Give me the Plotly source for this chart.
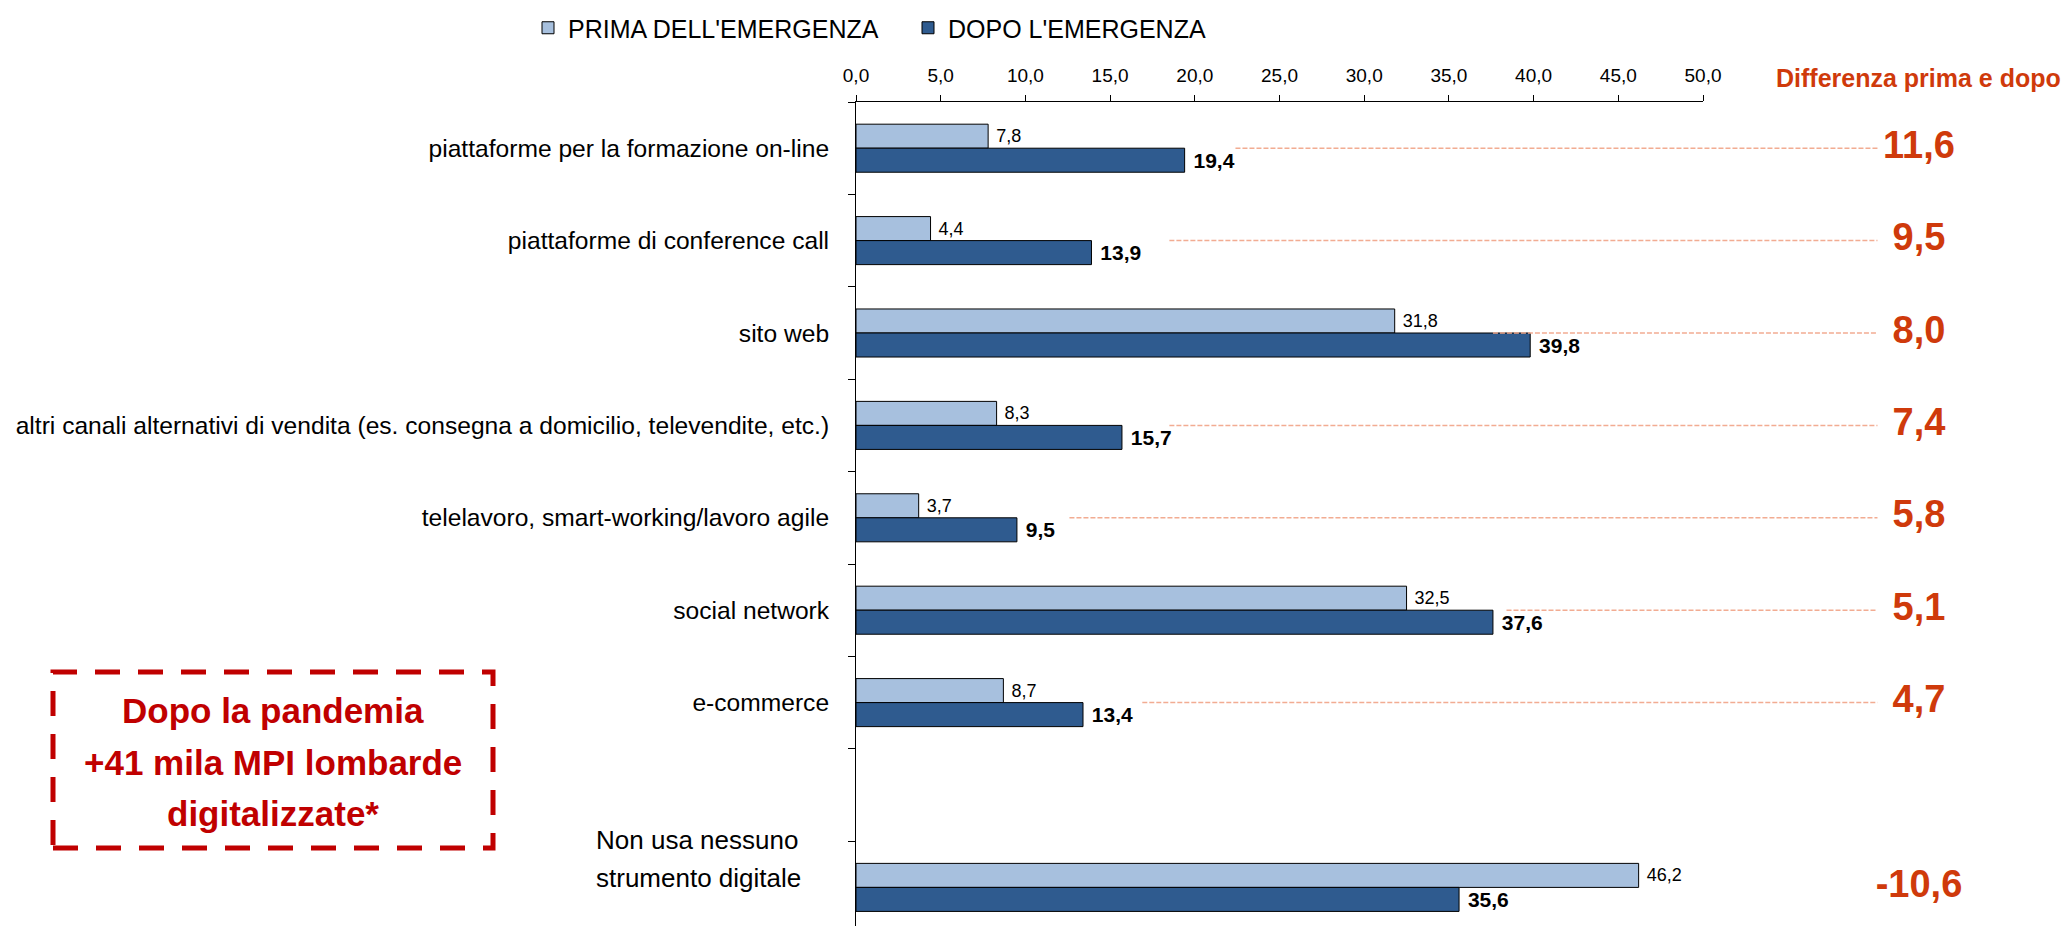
import plotly.graph_objects as go

# data
categories = [
    "piattaforme per la formazione on-line",
    "piattaforme di conference call",
    "sito web",
    "altri canali alternativi di vendita (es. consegna a domicilio, televendite, etc.)",
    "telelavoro, smart-working/lavoro agile",
    "social network",
    "e-commerce",
    "",
    "Non usa nessuno<br>strumento digitale",
]
prima = [7.8, 4.4, 31.8, 8.3, 3.7, 32.5, 8.7, None, 46.2]
dopo = [19.4, 13.9, 39.8, 15.7, 9.5, 37.6, 13.4, None, 35.6]
differenza = [11.6, 9.5, 8.0, 7.4, 5.8, 5.1, 4.7, None, -10.6]
# where the dotted guide lines start (axis units)
line_start = [22.4, 18.5, 37.6, 18.5, 12.6, 38.4, 16.9, None, None]
x_ticks = [0, 5, 10, 15, 20, 25, 30, 35, 40, 45, 50]
box_lines = ['Dopo la pandemia', '+41 mila MPI lombarde', 'digitalizzate*']

FONT = "Liberation Sans, Arial, sans-serif"
LIGHT = '#A7C0DE'
DARK = '#2F5B8F'
ORANGE = '#CF3A0B'
RED = '#C00000'

W, H = 2072, 926
ML, MR, MT, MB = 856, 0, 102, 0
PW, PH = W - ML - MR, H - MT - MB


def px_x(px):
    # page pixel -> paper x (paper spans the plot area)
    return (px - ML) / PW


def px_y(py):
    return (H - MB - py) / PH


x_dom = (1703 - ML) / PW             # axis 0..50 ends at ~1703px
x2_max = 50 / x_dom                  # hidden axis with the same scale, out to the right edge
slot = 92.4
y_bottom = -0.5 + PH / slot          # last slot is cut by the picture edge
DIFF_X = 62.75
LINE_END = 60.3

pos = list(range(len(categories)))

fig = go.Figure()

fig.add_trace(go.Bar(
    y=pos, x=prima, orientation='h', name="PRIMA DELL'EMERGENZA",
    marker=dict(color=LIGHT, line=dict(color='black', width=1)),
    texttemplate='\u00a0%{x:.1f}', textposition='outside', constraintext='none',
    textfont=dict(family=FONT, size=18, color='black'),
    cliponaxis=False,
))
fig.add_trace(go.Bar(
    y=pos, x=dopo, orientation='h', name="DOPO L'EMERGENZA",
    marker=dict(color=DARK, line=dict(color='black', width=1)),
    texttemplate='\u00a0%{x:.1f}', textposition='outside', constraintext='none',
    textfont=dict(family=FONT, size=21, color='black', weight='bold'),
    cliponaxis=False,
))

# dotted guide lines towards the difference column
lx, ly = [], []
for i, s in enumerate(line_start):
    if s is None:
        continue
    lx += [s, LINE_END, None]
    ly += [i, i, None]
fig.add_trace(go.Scatter(
    x=lx, y=ly, xaxis='x2', yaxis='y', mode='lines',
    line=dict(color='#F2AC92', width=1.5, dash='5px,2px'),
    showlegend=False, hoverinfo='skip',
))

# difference values
fig.add_trace(go.Scatter(
    x=[DIFF_X if d is not None else None for d in differenza], y=pos,
    xaxis='x2', yaxis='y', mode='text',
    text=[f"{d:.1f}".replace('.', ',') if d is not None else '' for d in differenza],
    textposition='middle center',
    textfont=dict(family=FONT, size=38, color=ORANGE, weight='bold'),
    showlegend=False, hoverinfo='skip', cliponaxis=False,
))

fig.add_annotation(
    x=DIFF_X, xref='x2', y=px_y(77.5), yref='paper',
    text='Differenza prima e dopo', showarrow=False,
    font=dict(family=FONT, size=25, color=ORANGE, weight='bold'),
    xanchor='center', yanchor='middle',
)

# last category label sits apart, left aligned, two lines
for txt, shift in zip(categories[-1].split('<br>'), [47, 9]):
    fig.add_annotation(
        x=px_x(594), xref='paper', y=pos[-1], yref='y', yshift=shift,
        text=txt, showarrow=False, align='left',
        xanchor='left', yanchor='middle',
        font=dict(family=FONT, size=26, color='black'),
    )

# dashed call-out box
fig.add_shape(
    type='rect', xref='paper', yref='paper',
    x0=px_x(53), x1=px_x(493), y0=px_y(848), y1=px_y(672),
    line=dict(color=RED, width=5, dash='25px,18px'),
)
for txt, py in zip(box_lines, [710, 762, 813]):
    fig.add_annotation(
        x=px_x(273), xref='paper', y=px_y(py), yref='paper',
        text=txt, showarrow=False, xanchor='center', yanchor='middle',
        font=dict(family=FONT, size=35, color=RED, weight='bold'),
    )

fig.update_layout(
    width=W, height=H,
    margin=dict(l=ML, r=MR, t=MT, b=MB, pad=0, autoexpand=False),
    paper_bgcolor='white', plot_bgcolor='rgba(0,0,0,0)',
    separators=',.',
    barmode='group', bargap=0.48, bargroupgap=0,
    font=dict(family=FONT, color='black'),
    legend=dict(
        orientation='h', x=px_x(528), xanchor='left', y=px_y(28), yanchor='middle',
        font=dict(family=FONT, size=25, color='black'),
        traceorder='normal', entrywidth=335, entrywidthmode='pixels',
        bgcolor='rgba(0,0,0,0)',
    ),
    xaxis=dict(
        domain=[0, x_dom], range=[0, 50], side='top',
        tickmode='array', tickvals=x_ticks, tickformat='.1f',
        ticks='outside', ticklen=6, tickcolor='black', ticklabelstandoff=5,
        showline=True, linecolor='black', linewidth=1,
        showgrid=False, zeroline=False,
        tickfont=dict(family=FONT, size=19, color='black'),
    ),
    xaxis2=dict(
        domain=[0, 1], range=[0, x2_max], anchor='y', visible=False,
        showgrid=False, zeroline=False,
    ),
    yaxis=dict(
        range=[y_bottom, -0.5],
        tickmode='array', tickvals=pos[:7], ticktext=categories[:7],
        ticks='', ticklabelstandoff=21,
        minor=dict(tickmode='array', tickvals=[p - 0.5 for p in pos] + [pos[-1] + 0.5],
                   ticks='outside', ticklen=7, tickcolor='black'),
        showline=True, linecolor='black', linewidth=1,
        showgrid=False, zeroline=False,
        tickfont=dict(family=FONT, size=24.6, color='black'),
    ),
)

# drop the browser's default page margin so the figure sits at the top-left corner
fig.write_html("out.html", config={'displayModeBar': False},
               post_script="document.body.style.margin='0';")
